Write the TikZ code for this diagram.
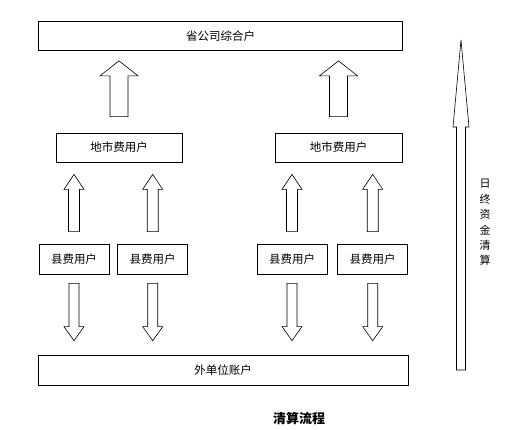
\documentclass[tikz,border=0pt]{standalone}
\usepackage{fontspec}
\setmainfont{Noto Sans CJK SC}
\usetikzlibrary{positioning,calc}

% hollow block arrow: start, tip, shaft half width, head half width, head length
\newcommand{\hollowarrow}[5]{%
  \draw[arrowbody] let \p1=#1, \p2=#2, \n1={#5*sign(\y2-\y1)} in
    (\x1-#3,\y1) -- (\x1-#3,\y2-\n1*1pt) -- (\x1-#4,\y2-\n1*1pt) -- (\x1,\y2)
    -- (\x1+#4,\y2-\n1*1pt) -- (\x1+#3,\y2-\n1*1pt) -- (\x1+#3,\y1) -- cycle;}

\begin{document}
\begin{tikzpicture}[
        x=1pt, y=-1pt,
        box/.style={draw, line width=0.7pt, minimum height=29pt, inner sep=0pt, font=\fontsize{11.5}{13}\selectfont}, % Box style
        county/.style={box, minimum width=70pt, minimum height=30pt}, % County box
        arrowbody/.style={draw, line width=0.6pt, fill=white, line join=miter} % Block arrow style
    ]
        \useasboundingbox (0,0) rectangle (512,429);

        % Top and middle level
        \node (top) [box, minimum width=364pt] at (220.5,36) {省公司综合户};
        \node (midL) [box, minimum width=126pt] at (119,147.5) {地市费用户};
        \node (midR) [box, minimum width=127pt] at (338.5,147.5) {地市费用户};

        % County level
        \node (cty1) [county] at (74,259) {县费用户};
        \node (cty2) [county, right=8pt of cty1] {县费用户};
        \node (cty3) [county] at (292,259) {县费用户};
        \node (cty4) [county, right=10pt of cty3] {县费用户};

        % Bottom account
        \node (acct) [box, minimum width=370pt, minimum height=30pt] at (223,370) {外单位账户};

        % Title
        \node (title) [font=\bfseries\fontsize{13}{15}\selectfont] at (299,419) {清算流程};

        % Middle to top (upward)
        \hollowarrow{($(midL.north)+(0,-16)$)}{($(top.south)+(0,10)$)}{9pt}{19pt}{15pt}
        \hollowarrow{($(midR.north)+(0,-16)$)}{($(top.south)+(0,10)$)}{9pt}{19pt}{15pt}

        % County to middle (upward)
        \hollowarrow{($(cty1.north)+(0,-12)$)}{($(midL.south)+(0,12)$)}{5.5pt}{10pt}{15pt}
        \hollowarrow{($(cty2.north)+(0,-12)$)}{($(midL.south)+(0,12)$)}{5.5pt}{10pt}{15pt}
        \hollowarrow{($(cty3.north)+(0,-12)$)}{($(midR.south)+(0,12)$)}{5.5pt}{10pt}{15pt}
        \hollowarrow{($(cty4.north)+(0,-12)$)}{($(midR.south)+(0,12)$)}{5.5pt}{10pt}{15pt}

        % County to bottom account (downward)
        \hollowarrow{($(cty1.south)+(0,9)$)}{($(acct.north)+(0,-14)$)}{5pt}{10pt}{14pt}
        \hollowarrow{($(cty2.south)+(0,9)$)}{($(acct.north)+(0,-14)$)}{5pt}{10pt}{14pt}
        \hollowarrow{($(cty3.south)+(0,9)$)}{($(acct.north)+(0,-14)$)}{5pt}{10pt}{14pt}
        \hollowarrow{($(cty4.south)+(0,9)$)}{($(acct.north)+(0,-14)$)}{5pt}{10pt}{14pt}

        % Daily clearing arrow on the right
        \coordinate (dayS) at (461,370);
        \coordinate (dayE) at (461,40);
        \hollowarrow{(dayS)}{(dayE)}{4.5pt}{8pt}{87pt}
        \node (daylbl) [align=center, inner sep=0pt, font=\fontsize{11}{15.4}\selectfont] at (485,222.5) {日\\终\\资\\金\\清\\算};

    \end{tikzpicture}
\end{document}
